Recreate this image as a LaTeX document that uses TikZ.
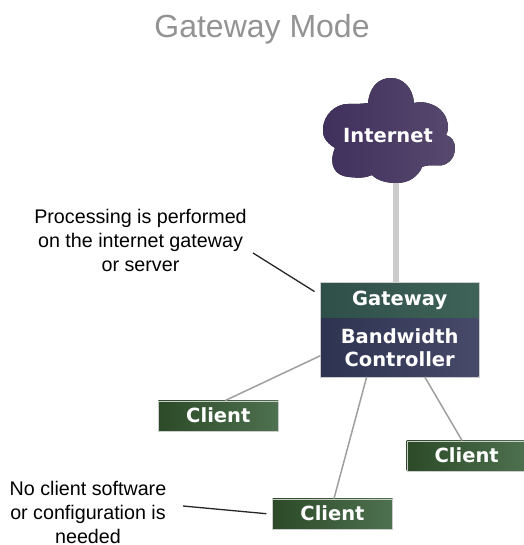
\documentclass[tikz,border=0pt]{standalone}
\usepackage{fontspec}
\setmainfont{Liberation Sans}
\newfontfamily\boxfont{DejaVu Sans}
\usetikzlibrary{positioning}
\definecolor{clouddark}{HTML}{3F2F5C}
\definecolor{cloudlight}{HTML}{57496E}
\definecolor{gatewaydark}{HTML}{2F4F49}
\definecolor{gatewaylight}{HTML}{3F6358}
\definecolor{controldark}{HTML}{2E3352}
\definecolor{controllight}{HTML}{474A68}
\definecolor{clientdark}{HTML}{2C4A27}
\definecolor{clientlight}{HTML}{4E7150}
\tikzset{
    boxtext/.style={text=white, inner sep=0pt, font=\boxfont\bfseries\fontsize{19.5}{23}\selectfont},
    client/.style={boxtext, draw=gray!40, line width=0.4pt, left color=clientdark, right color=clientlight, minimum width=120pt, minimum height=30pt},
    note/.style={align=center, inner sep=0pt, font=\fontsize{19.7}{24}\selectfont},
    link/.style={draw=gray!75, line width=1.5pt},
    leader/.style={draw=black!85, line width=1.3pt}
}
\begin{document}
\begin{tikzpicture}[x=1pt, y=-1pt]
    \useasboundingbox (0,0) rectangle (523,545);
    \node[font=\fontsize{32}{36}\selectfont, text=gray!85, inner sep=0pt] (title) at (262,29) {Gateway Mode};

    % Uplink runs under the cloud
    \coordinate (uplink) at (396,170);
    \node[boxtext, left color=gatewaydark, right color=gatewaylight, minimum width=158pt, minimum height=35.5pt] (gateway) at (399.7,300.5) {Gateway};
    \node[boxtext, left color=controldark, right color=controllight, minimum width=158pt, minimum height=58pt, align=center, below=0pt of gateway] (controller) {Bandwidth\\Controller};
    \draw[draw=gray!40, line width=0.4pt] (gateway.north west) rectangle (controller.south east);
    \draw[draw=gray!40, line width=6pt] (uplink) -- (uplink |- gateway.north);

    % Cloud
    \fill[left color=clouddark, right color=cloudlight] (368,103)
        .. controls (370,85) and (380,78) .. (391,78)
        .. controls (403,78) and (413,88) .. (414,103)
        .. controls (424,100) and (447,105) .. (448,127)
        .. controls (448,131) and (447,133) .. (446,135)
        .. controls (452,137) and (455,142) .. (455,148)
        .. controls (455,158) and (448,166) .. (438,165.5)
        .. controls (432,165) and (426,165) .. (422,167)
        .. controls (418,177) and (408,183) .. (397,183)
        .. controls (387,183) and (378,181) .. (372,175)
        .. controls (366,178) and (358,178) .. (349,177)
        .. controls (335,176) and (328,165) .. (335,148)
        .. controls (325,142) and (322,135) .. (323,128)
        .. controls (324,115) and (335,104) .. (348,104)
        .. controls (355,104) and (362,104) .. (368,103) -- cycle;
    \node[boxtext] (internet) at (388,136) {Internet};

    % Clients
    \node[client] (clienta) at (218.3,415.7) {Client};
    \node[client] (clientb) at (332.5,513.7) {Client};
    \node[client] (clientc) at (466.7,455.7) {Client};
    \draw[link] ([yshift=-8pt]controller.west) -- ([xshift=7pt]clienta.north);
    \draw[link] ([xshift=-33pt]controller.south) -- ([xshift=1.5pt]clientb.north);
    \draw[link] ([xshift=25pt]controller.south) -- ([xshift=-4.7pt]clientc.north);

    % Notes
    \node[note] (notegateway) at (140.5,240) {Processing is performed\\on the internet gateway\\or server};
    \node[note] (noteclient) at (88,512.5) {No client software\\or configuration is\\needed};
    \coordinate (leadera) at (253,253);
    \coordinate (leaderb) at (183,506);
    \draw[leader] (leadera) -- ([xshift=-6pt,yshift=-9pt]gateway.north west);
    \draw[leader] (leaderb) -- ([xshift=-6pt]clientb.west);
\end{tikzpicture}
\end{document}
